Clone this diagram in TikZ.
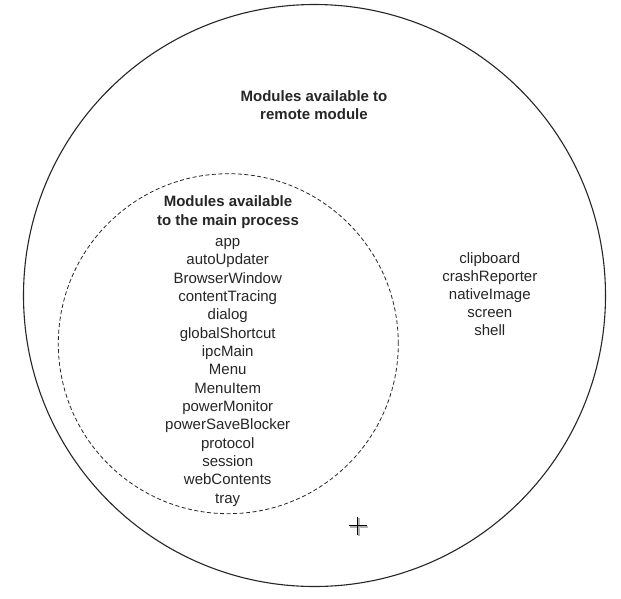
\documentclass[tikz,border=0pt]{standalone}
\usepackage{fontspec}
\setmainfont{Liberation Sans}
\begin{document}
\begin{tikzpicture}[x=1pt,y=-1pt,
  outerring/.style={draw=black!85,line width=1.1pt},
  innerring/.style={draw=black!85,line width=0.8pt,dash pattern=on 4pt off 2.5pt},
  titletxt/.style={font=\fontsize{15}{18}\selectfont\bfseries,text=black!85,inner sep=0pt,anchor=base},
  itemtxt/.style={font=\fontsize{15}{18}\selectfont,text=black!85,inner sep=0pt,anchor=base}]
\useasboundingbox (0,0) rectangle (621,598);
\fill[white] (0,0) rectangle (621,598);
% circles
\node[outerring,circle,minimum size=582pt,inner sep=0pt] (outer) at (314.5,295.5) {};
\node[innerring,circle,minimum size=340pt,inner sep=0pt] (inner) at (228.3,343.7) {};
% outer title
\node[titletxt] (ot1) at (314,101.5) {Modules available to};
\node[titletxt] (ot2) at (314,119) {remote module};
% inner title
\node[titletxt] (it1) at (228,206.5) {Modules available};
\node[titletxt] (it2) at (228,225.5) {to the main process};
% inner list
\foreach \t [count=\i] in {app,autoUpdater,BrowserWindow,contentTracing,dialog,globalShortcut,ipcMain,Menu,MenuItem,powerMonitor,powerSaveBlocker,protocol,session,webContents,tray}
  \node[itemtxt] (m\i) at (227.7,{246.5+(\i-1)*18.34}) {\t};
% right list
\foreach \t [count=\i] in {clipboard,crashReporter,nativeImage,screen,shell}
  \node[itemtxt] (r\i) at (489.8,{263.5+(\i-1)*18}) {\t};
% plus marker
\coordinate (pc) at (357.5,525.5);
\draw[black!30,line width=2pt] ([shift={(1,1)}]pc) +(-9,0) -- +(9,0) +(0,-9) -- +(0,9);
\draw[black,line width=1.6pt] (pc) +(-9,0) -- +(9,0) +(0,-9) -- +(0,9);
\end{tikzpicture}
\end{document}
